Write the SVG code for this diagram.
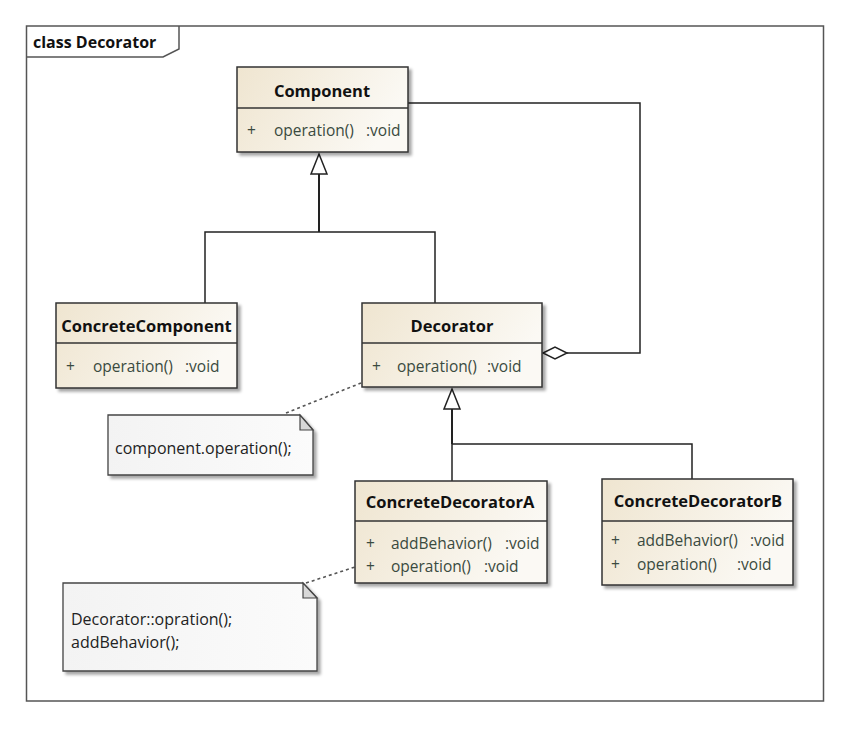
<svg xmlns="http://www.w3.org/2000/svg" width="865" height="729" viewBox="0 0 865 729">
<defs>
<linearGradient id="cls" x1="0" y1="0" x2="1" y2="0.3">
<stop offset="0" stop-color="#efe5d0"/>
<stop offset="1" stop-color="#fbf9f4"/>
</linearGradient>
<linearGradient id="note" x1="0" y1="0" x2="1" y2="0">
<stop offset="0" stop-color="#f3f3f3"/>
<stop offset="1" stop-color="#fbfbfb"/>
</linearGradient>
<filter id="sh" x="-10%" y="-10%" width="130%" height="130%">
<feDropShadow dx="3" dy="3" stdDeviation="1.5" flood-color="#000" flood-opacity="0.35"/>
</filter>
</defs>
<style>
.box{fill:url(#cls);stroke:#333;stroke-width:1.5;filter:url(#sh)}
.div{stroke:#333;stroke-width:1.5}
.nt{fill:url(#note);stroke:#444;stroke-width:1.3;filter:url(#sh)}
.fold{fill:#d8d8d8;stroke:#444;stroke-width:1.2}
.t{font-family:"Open Sans","Liberation Sans",sans-serif;font-weight:bold;font-size:16.5px;fill:#111;text-anchor:middle}
.op{font-family:"Open Sans","Liberation Sans",sans-serif;font-size:15.5px;fill:#3a4a40}
.ntxt{font-family:"Open Sans","Liberation Sans",sans-serif;font-size:16px;fill:#222}
.ln{fill:none;stroke:#222;stroke-width:1.5}
.gen{fill:none;stroke:#222;stroke-width:2}
.dot{fill:none;stroke:#555;stroke-width:1.6;stroke-dasharray:3 3}
</style>
<rect width="865" height="729" fill="#fff"/>
<g id="frame">
<rect x="26.5" y="26" width="797" height="675" fill="#fff" stroke="#555" stroke-width="1.5"/>
<path d="M26.5 57 H163 L179 49 V26" fill="none" stroke="#555" stroke-width="1.5"/>
<text x="33" y="48" style="font-family:'Open Sans','Liberation Sans',sans-serif;font-weight:bold;font-size:16px;fill:#111">class Decorator</text>
</g>
<g id="connectors">
<polyline class="ln" points="408,103 640,103 640,353 567,353"/>
<polygon points="543,353 555,347 567,353 555,359" fill="#fff" stroke="#222" stroke-width="1.5"/>
<line class="gen" x1="319" y1="174" x2="319" y2="232"/>
<polyline class="ln" points="205,303 205,232 435,232 435,303"/>
<polygon points="319,154 311,174 327,174" fill="#fff" stroke="#222" stroke-width="1.5"/>
<line class="gen" x1="452" y1="409" x2="452" y2="444"/>
<polyline class="ln" points="452,444 452,481"/>
<polyline class="ln" points="452,444 692,444 692,479"/>
<polygon points="452,389 444,409 460,409" fill="#fff" stroke="#222" stroke-width="1.5"/>
<line class="dot" x1="286" y1="413" x2="361" y2="383"/>
<line class="dot" x1="306" y1="583" x2="355" y2="567"/>
</g>
<g id="Component">
<rect class="box" x="237" y="67" width="171" height="85"/>
<line class="div" x1="237" y1="108" x2="408" y2="108"/>
<text class="t" x="322" y="97">Component</text>
<text class="op" x="247" y="136">+</text>
<text class="op" x="274" y="136">operation()</text>
<text class="op" x="366" y="136">:void</text>
</g>
<g id="ConcreteComponent">
<rect class="box" x="56" y="303" width="181" height="85"/>
<line class="div" x1="56" y1="343" x2="237" y2="343"/>
<text class="t" x="146.5" y="332">ConcreteComponent</text>
<text class="op" x="66" y="372">+</text>
<text class="op" x="93" y="372">operation()</text>
<text class="op" x="185" y="372">:void</text>
</g>
<g id="Decorator">
<rect class="box" x="362" y="303" width="180" height="84"/>
<line class="div" x1="362" y1="343" x2="542" y2="343"/>
<text class="t" x="452" y="332">Decorator</text>
<text class="op" x="372" y="372">+</text>
<text class="op" x="397" y="372">operation()</text>
<text class="op" x="487" y="372">:void</text>
</g>
<g id="ConcreteDecoratorA">
<rect class="box" x="355" y="481" width="192" height="102"/>
<line class="div" x1="355" y1="521" x2="547" y2="521"/>
<text class="t" x="450" y="508">ConcreteDecoratorA</text>
<text class="op" x="366" y="549">+</text>
<text class="op" x="391" y="549">addBehavior()</text>
<text class="op" x="505" y="549">:void</text>
<text class="op" x="366" y="572">+</text>
<text class="op" x="391" y="572">operation()</text>
<text class="op" x="484" y="572">:void</text>
</g>
<g id="ConcreteDecoratorB">
<rect class="box" x="602" y="479" width="191" height="106"/>
<line class="div" x1="602" y1="521" x2="793" y2="521"/>
<text class="t" x="698" y="507">ConcreteDecoratorB</text>
<text class="op" x="611" y="546">+</text>
<text class="op" x="637" y="546">addBehavior()</text>
<text class="op" x="750" y="546">:void</text>
<text class="op" x="611" y="570">+</text>
<text class="op" x="637" y="570">operation()</text>
<text class="op" x="737" y="570">:void</text>
</g>
<g id="note1">
<path class="nt" d="M108 415 H300 L313 430 V475 H108 Z"/>
<path class="fold" d="M300 415 V430 H313 Z"/>
<text class="ntxt" x="115" y="454">component.operation();</text>
</g>
<g id="note2">
<path class="nt" d="M63 583 H303 L317 598 V671 H63 Z"/>
<path class="fold" d="M303 583 V598 H317 Z"/>
<text class="ntxt" x="71" y="625">Decorator::opration();</text>
<text class="ntxt" x="71" y="648">addBehavior();</text>
</g>
</svg>
